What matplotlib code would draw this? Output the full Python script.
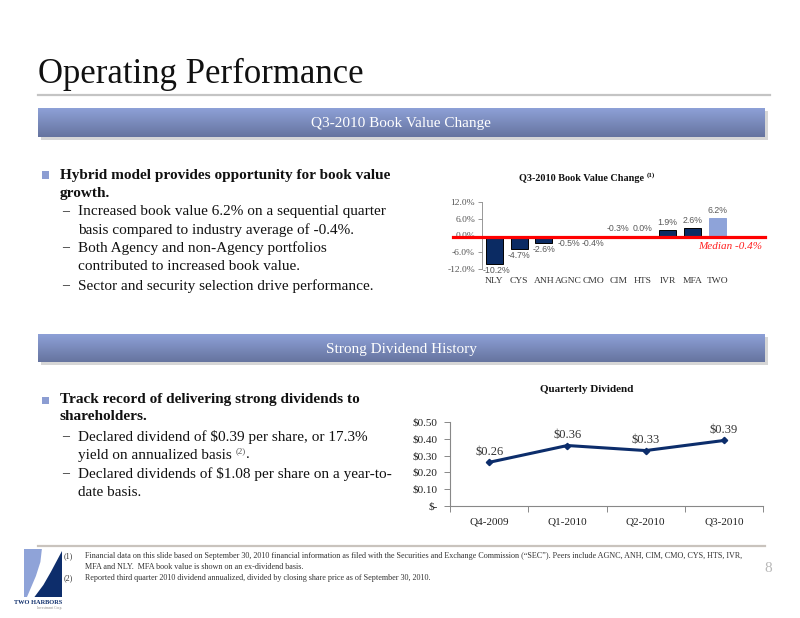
import matplotlib
matplotlib.use('Agg')
import matplotlib.pyplot as plt
import numpy as np
from matplotlib.patches import Rectangle, Polygon
from matplotlib.colors import LinearSegmentedColormap
import matplotlib.transforms as mtransforms

plt.rcParams['text.parse_math'] = False
SERIF = 'Liberation Serif'
SANS = 'Liberation Sans'

# ---------------- data ----------------
bv_tickers = ['NLY', 'CYS', 'ANH', 'AGNC', 'CMO', 'CIM', 'HTS', 'IVR', 'MFA', 'TWO']
bv_change = [-10.2, -4.7, -2.6, -0.5, -0.4, -0.3, 0.0, 1.9, 2.6, 6.2]
bv_median = -0.4
bv_yticks = [-12, -6, 0, 6, 12]
bv_ytick_labels = ['-12.0%', '-6.0%', '0.0%', '6.0%', '12.0%']

div_quarters = ['Q4-2009', 'Q1-2010', 'Q2-2010', 'Q3-2010']
div_values = [0.26, 0.36, 0.33, 0.39]
div_yticks = [0.0, 0.1, 0.2, 0.3, 0.4, 0.5]
div_ytick_labels = ['$-', '$0.10', '$0.20', '$0.30', '$0.40', '$0.50']

W, H = 800, 618
fig = plt.figure(figsize=(8, 6.18), dpi=100)
fig.patch.set_facecolor('white')


def fx(x):
    return x / W


def fy(y):
    return 1 - y / H


def add_axes_px(x0, y0, x1, y1, **kw):
    return fig.add_axes([fx(x0), fy(y1), (x1 - x0) / W, (y1 - y0) / H], **kw)


def ftext(x, y, s, **kw):
    kw.setdefault('family', SERIF)
    return fig.text(fx(x), fy(y), s, **kw)


renderer = fig.canvas.get_renderer()


def right_px(t):
    bb = t.get_window_extent(renderer)
    return bb.x1


# ---------------- title ----------------
ftext(38, 74, 'Operating Performance', fontsize=25, va='center', color='#111111')
fig.add_artist(plt.Line2D([fx(38), fx(770)], [fy(95), fy(95)], color='#c4c4c4', lw=1.6,
                          transform=fig.transFigure))

# ---------------- banners ----------------
cmap = LinearSegmentedColormap.from_list('banner', ['#66749f', '#8fa2d9'])
grad = np.linspace(0, 1, 64).reshape(-1, 1)


def banner(y0, y1, label):
    fig.add_artist(Rectangle((fx(41), fy(y1 + 3)), (765 - 38) / W, (y1 - y0) / H,
                             transform=fig.transFigure, facecolor='#d6d6d6', edgecolor='none',
                             zorder=-1))
    axb = add_axes_px(38, y0, 765, y1)
    axb.imshow(grad, aspect='auto', cmap=cmap, extent=[0, 1, 0, 1], origin='lower')
    axb.set_axis_off()
    ftext(401, (y0 + y1) / 2 + 1, label, fontsize=11, color='white', ha='center', va='center')


banner(108, 137, 'Q3-2010 Book Value Change')
banner(334, 362, 'Strong Dividend History')

# ---------------- bullet text ----------------
BUL = '#8c9dd2'
FS = 11


def bullet_block(lines):
    for kind, y, s in lines:
        if kind == 'b':
            fig.add_artist(Rectangle((fx(42), fy(y + 3.5)), 7 / W, 7 / H, transform=fig.transFigure,
                                     facecolor=BUL, edgecolor='none'))
            ftext(60, y, s, fontsize=FS, fontweight='bold', va='center', color='#111111')
        elif kind == 'b2':
            ftext(60, y, s, fontsize=FS, fontweight='bold', va='center', color='#111111')
        elif kind == 's':
            ftext(62, y, '\u2013', fontsize=10, va='center', color='#222222')
            ftext(78, y, s, fontsize=FS, va='center', color='#111111')
        else:
            ftext(78, y, s, fontsize=FS, va='center', color='#111111')


bullet_block([
    ('b', 175, 'Hybrid model provides opportunity for book value'),
    ('b2', 193, 'growth.'),
    ('s', 212, 'Increased book value 6.2% on a sequential quarter'),
    ('c', 230, 'basis compared to industry average of -0.4%.'),
    ('s', 248, 'Both Agency and non-Agency portfolios'),
    ('c', 266, 'contributed to increased book value.'),
    ('s', 286, 'Sector and security selection drive performance.'),
])

bullet_block([
    ('b', 400, 'Track record of delivering strong dividends to'),
    ('b2', 417, 'shareholders.'),
    ('s', 437, 'Declared dividend of $0.39 per share, or 17.3%'),
    ('s', 474, 'Declared dividends of $1.08 per share on a year-to-'),
    ('c', 492, 'date basis.'),
])
# line with superscript
t = ftext(78, 455, 'yield on annualized basis ', fontsize=FS, va='center', color='#111111')
xr = right_px(t)
t2 = ftext(xr, 451, '(2)', fontsize=6.5, va='center', color='#555555')
xr2 = right_px(t2)
ftext(xr2, 455, '.', fontsize=FS, va='center', color='#111111')

# ---------------- bar chart ----------------
tb = ftext(519, 179, 'Q3-2010 Book Value Change ', fontsize=7.3, fontweight='bold', va='center',
           color='#111111')
ftext(right_px(tb), 175, '(1)', fontsize=5, fontweight='bold', va='center', color='#111111')

ax1 = add_axes_px(482, 202, 729.5, 269)
x = np.arange(len(bv_tickers))
colors = ['#8ea3d9' if tk == 'TWO' else '#0b2b63' for tk in bv_tickers]
edges = ['#8ea3d9' if tk == 'TWO' else '#000000' for tk in bv_tickers]
ax1.bar(x, bv_change, width=0.68, color=colors, edgecolor=edges, linewidth=0.7, zorder=2)
ax1.set_xlim(-0.5, len(bv_tickers) - 0.5)
ax1.set_ylim(min(bv_yticks), max(bv_yticks))
ax1.set_yticks(bv_yticks)
ax1.set_yticklabels(bv_ytick_labels, family=SERIF, fontsize=6.8, color='#555555')
ax1.set_xticks(x)
ax1.set_xticklabels(bv_tickers, family=SERIF, fontsize=6.8, color='#333333')
ax1.tick_params(axis='x', length=0, pad=6)
ax1.tick_params(axis='y', length=3, width=0.6, color='#888888', pad=2)
for s in ['top', 'right', 'bottom']:
    ax1.spines[s].set_visible(False)
ax1.spines['left'].set_color('#888888')
ax1.spines['left'].set_linewidth(0.6)
ax1.set_facecolor('none')
ax1.axhline(0, color='#888888', lw=0.6, zorder=1)
for xi, v in zip(x, bv_change):
    above = v >= -0.3
    ax1.annotate(f'{v:.1f}%', (xi, max(v, 0) if above else v),
                 xytext=(1.5 if v < -10 else 0, 2 if above else -1.5),
                 textcoords='offset points', ha='center', va='bottom' if above else 'top',
                 family=SANS, fontsize=6.3, color='#595959', zorder=4)
blend = mtransforms.blended_transform_factory(ax1.transAxes, ax1.transData)
ax1.add_line(plt.Line2D([-0.117, 1.145], [bv_median, bv_median], transform=blend, color='#ff0000',
                        lw=2.3, clip_on=False, zorder=3))
ax1.annotate(f'Median {bv_median:.1f}%', (1.13, bv_median), xycoords=blend, xytext=(0, -4),
             textcoords='offset points', ha='right', va='top', family=SERIF, style='italic',
             fontsize=8, color='#ff2020')

# ---------------- line chart ----------------
ftext(587, 390, 'Quarterly Dividend', fontsize=8, fontweight='bold', ha='center', va='center',
      color='#111111')
ax2 = add_axes_px(450, 422, 763, 506)
xq = np.arange(len(div_quarters))
ax2.plot(xq, div_values, color='#0c2d6b', lw=2.2, marker='D', markersize=3.2, zorder=3)
ax2.set_xlim(-0.5, len(div_quarters) - 0.5)
ax2.set_ylim(min(div_yticks), max(div_yticks))
ax2.set_yticks(div_yticks)
ax2.set_yticklabels(div_ytick_labels, family=SERIF, fontsize=8, color='#222222')
ax2.set_xticks(np.arange(len(div_quarters) + 1) - 0.5)
ax2.set_xticklabels([])
ax2.set_xticks(xq, minor=True)
ax2.set_xticklabels(div_quarters, minor=True, family=SERIF, fontsize=8, color='#222222')
ax2.tick_params(axis='x', which='major', length=4, width=0.7, color='#888888')
ax2.tick_params(axis='x', which='minor', length=0, pad=8)
ax2.tick_params(axis='y', length=4, width=0.7, color='#888888', pad=5)
for s in ['top', 'right']:
    ax2.spines[s].set_visible(False)
for s in ['left', 'bottom']:
    ax2.spines[s].set_color('#888888')
    ax2.spines[s].set_linewidth(0.8)
ax2.set_facecolor('none')
for xi, v in zip(xq, div_values):
    ax2.annotate(f'${v:.2f}', (xi, v), xytext=(0, 3), textcoords='offset points', ha='center',
                 va='bottom', family=SERIF, fontsize=9, color='#333333')

# ---------------- footer ----------------
fig.add_artist(plt.Line2D([fx(38), fx(765)], [fy(546), fy(546)], color='#c9c3bd', lw=1.6,
                          transform=fig.transFigure))


def lx(x):
    return fx(24 + (x - 36) * 38 / 51)


fig.add_artist(Polygon([(lx(36), fy(549)), (lx(60), fy(549)), (lx(58), fy(562)), (lx(52), fy(576)),
                        (lx(44), fy(590)), (lx(40), fy(597)), (lx(36), fy(597))],
                       closed=True, transform=fig.transFigure, facecolor='#8fa3d8', edgecolor='none'))
fig.add_artist(Polygon([(lx(87), fy(551)), (lx(87), fy(597)), (lx(50), fy(597)), (lx(62), fy(585)),
                        (lx(72), fy(572))],
                       closed=True, transform=fig.transFigure, facecolor='#0d2d6b', edgecolor='none'))
ftext(38, 602, 'TWO HARBORS', fontsize=4.6, fontweight='bold', ha='center', va='center',
      color='#0d2d6b')
ftext(50, 608, 'Investment Corp.', fontsize=2.6, ha='center', va='center', color='#888888')

fn = dict(fontsize=5.85, va='center', color='#333333')
ftext(64, 556, '(1)', **fn)
ftext(85, 556, 'Financial data on this slide based on September 30, 2010 financial information as '
               'filed with the Securities and Exchange Commission (\u201cSEC\u201d). Peers include '
               'AGNC, ANH, CIM, CMO, CYS, HTS, IVR,', **fn)
ftext(85, 567, 'MFA and NLY.  MFA book value is shown on an ex-dividend basis.', **fn)
ftext(64, 578, '(2)', **fn)
ftext(85, 578, 'Reported third quarter 2010 dividend annualized, divided by closing share price as '
               'of September 30, 2010.', **fn)
ftext(764, 569, '8', fontsize=11, va='center', color='#b8b8b8')

fig.savefig('out.png', dpi=100)
